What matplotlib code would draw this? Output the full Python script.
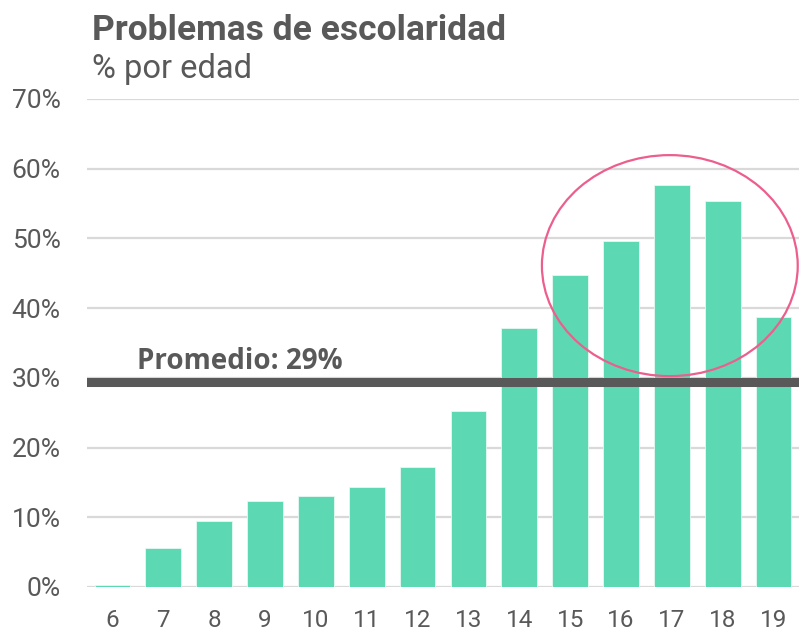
import numpy as np
import matplotlib
matplotlib.use('Agg')
import matplotlib.pyplot as plt
from matplotlib.patches import Ellipse

edades = ['6', '7', '8', '9', '10', '11', '12', '13', '14', '15', '16', '17', '18', '19']
valores = [0.3, 5.6, 9.5, 12.3, 13.1, 14.3, 17.2, 25.3, 37.2, 44.8, 49.6, 57.7, 55.4, 38.7]
promedio = 29.4
yticks = [0, 10, 20, 30, 40, 50, 60, 70]
ytick_labels = ['0%', '10%', '20%', '30%', '40%', '50%', '60%', '70%']

gris = '#595959'
verde = '#5cd9b3'

fig = plt.figure(figsize=(7.99, 6.33), dpi=100)
ax = fig.add_axes([87/799, 1-587/633, 1-87/799, (587-99)/633])

x = np.arange(len(edades))
ax.bar(x, valores, width=0.7, color=verde, edgecolor='#e6f9f3', linewidth=0.6, zorder=2)

ax.set_xlim(-0.5, len(edades)-0.5)
ax.set_ylim(0, 70)
ax.set_yticks(yticks)
ax.set_yticklabels(ytick_labels)
ax.set_xticks(x)
ax.set_xticklabels(edades)
ax.grid(axis='y', color='#d9d9d9', linewidth=1.6, zorder=0)
ax.tick_params(length=0, colors=gris)
ax.tick_params(axis='x', pad=16, labelsize=17.5)
ax.tick_params(axis='y', pad=19, labelsize=19)
for lab in ax.get_xticklabels() + ax.get_yticklabels():
    lab.set_family('Roboto')
for s in ax.spines.values():
    s.set_visible(False)

# linea de promedio
ax.axhline(promedio, color=gris, linewidth=6.5, zorder=3)
ax.text(0.48, promedio+0.9, 'Promedio: 29%', fontsize=20, fontweight='bold',
        family='Open Sans', color=gris, ha='left', va='bottom', zorder=4)

# elipse sobre las edades 15-19
i17 = edades.index('17')
ell = Ellipse((i17-0.04, 46.1), width=5.03, height=31.7, fill=False,
              edgecolor='#ec5f8c', linewidth=1.6, zorder=5)
ax.add_patch(ell)

fig.text(92/799, 1-40/633, 'Problemas de escolaridad', fontsize=25.5, fontweight='bold',
         family='Roboto', color=gris, ha='left', va='baseline')
fig.text(92/799, 1-78/633, '% por edad', fontsize=23.5, family='Roboto', color=gris,
         ha='left', va='baseline')

fig.savefig('out.png', dpi=100)
